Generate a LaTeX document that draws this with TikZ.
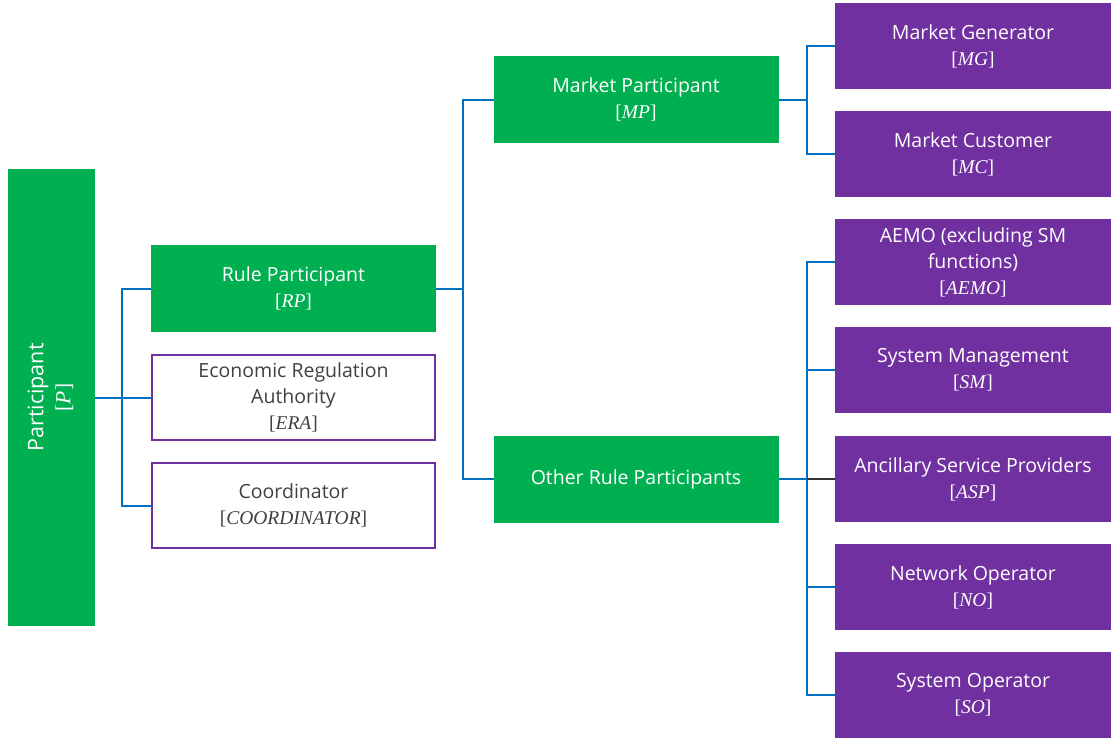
\documentclass[tikz,border=0pt]{standalone}
\usepackage{fontspec}
\setmainfont{Open Sans}
\newfontfamily\abbrfont{Liberation Serif}
\usepackage{graphicx}
\usetikzlibrary{positioning}
\definecolor{boxgreen}{HTML}{00B050}
\definecolor{boxpurple}{HTML}{7030A0}
\definecolor{linkblue}{HTML}{0070C0}
\definecolor{darktext}{HTML}{404040}
\newcommand{\abbr}[1]{{\abbrfont[\textit{#1}]}}

\tikzset{
  box/.style={minimum width=285pt, minimum height=87pt, inner sep=2pt,
    outer sep=0pt, align=center, font=\fontsize{19.5}{26}\selectfont},
  greenbox/.style={box, fill=boxgreen, text=white},
  outlinebox/.style={box, draw=boxpurple, line width=2.5pt, fill=white,
    text=darktext, minimum width=283pt, minimum height=85pt},
  rolebox/.style={box, fill=boxpurple, text=white, minimum width=276pt,
    minimum height=86pt},
  link/.style={draw=linkblue, line width=2pt},
}

\begin{document}
\begin{tikzpicture}[x=1pt, y=-1pt]
    \useasboundingbox (0,0) rectangle (1111,740);

    % left column
    \node [greenbox, minimum width=87pt, minimum height=457pt,
    font=\fontsize{21.5}{27}\selectfont] (P) at (51.5,397.5)
    {\rotatebox{90}{\begin{tabular}{@{}c@{}}Participant\\\abbr{P}\end{tabular}}};

    % middle column
    \node [greenbox] (RP) at (293.5,288.5) {Rule Participant\\\abbr{RP}};
    \node [outlinebox] (ERA) at (293.5,397.5)
    {Economic Regulation\\Authority\\\abbr{ERA}};
    \node [outlinebox] (CO) at (293.5,505.5) {Coordinator\\\abbr{COORDINATOR}};

    \node [greenbox] (MP) at (636,99.5) {Market Participant\\\abbr{MP}};
    \node [greenbox] (ORP) at (636,479) {Other Rule Participants};

    % right column
    \node [rolebox] (MG) at (973,46) {Market Generator\\\abbr{MG}};
    \node [rolebox] (MC) at (973,154) {Market Customer\\\abbr{MC}};
    \node [rolebox] (AEMO) at (973,262)
    {AEMO (excluding SM\\functions)\\\abbr{AEMO}};
    \node [rolebox] (SM) at (973,370) {System Management\\\abbr{SM}};
    \node [rolebox] (ASP) at (973,479) {Ancillary Service Providers\\\abbr{ASP}};
    \node [rolebox] (NO) at (973,587) {Network Operator\\\abbr{NO}};
    \node [rolebox] (SO) at (973,695) {System Operator\\\abbr{SO}};

    % connectors
    \draw [link] (P.east) -- ++(27,0) |- (RP.west);
    \draw [link] (P.east) -- (ERA.west);
    \draw [link] (P.east) -- ++(27,0) |- (CO.west);

    \draw [link] (RP.east) -- ++(27,0) |- (MP.west);
    \draw [link] (RP.east) -- ++(27,0) |- (ORP.west);

    \draw [link] (MP.east) -- ++(28,0) |- (MG.west);
    \draw [link] (MP.east) -- ++(28,0) |- (MC.west);

    \draw [link] (ORP.east) -- ++(28,0) |- (AEMO.west);
    \draw [link] (ORP.east) -- ++(28,0) |- (SM.west);
    \draw [link] (ORP.east) -- ++(28,0) |- (NO.west);
    \draw [link] (ORP.east) -- ++(28,0) |- (SO.west);
    \draw [link] (ORP.east) -- ++(28,0) coordinate (asp-tee);
    \draw [link, draw=black!80] (asp-tee) -- (ASP.west);

  \end{tikzpicture}
\end{document}
